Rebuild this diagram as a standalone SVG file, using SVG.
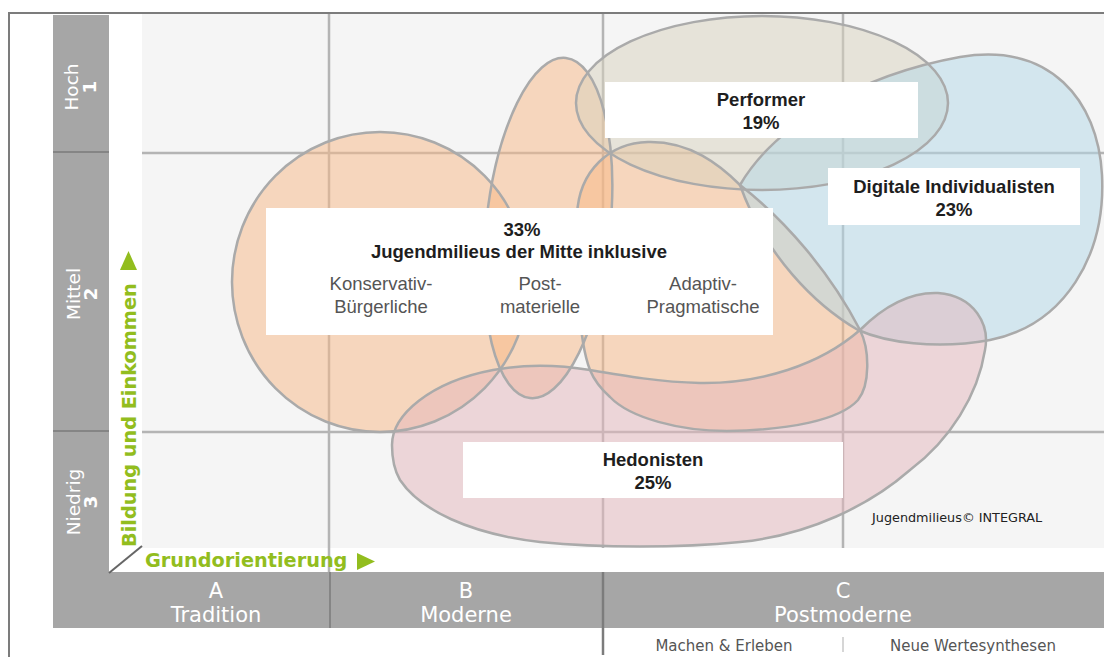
<svg xmlns="http://www.w3.org/2000/svg" width="1104" height="657" viewBox="0 0 1104 657">
<defs>
<style>
.bar{fill:#a6a6a6}
.grid{stroke:#b4b4b4;stroke-width:2.5;fill:none}
.sep{stroke:#858585;stroke-width:2;fill:none}
.axis{font-family:"DejaVu Sans",Verdana,sans-serif;fill:#ffffff;font-size:18.5px;text-anchor:middle}
.num{font-weight:bold}
.cat{font-family:"DejaVu Sans",Verdana,sans-serif;fill:#ffffff;font-size:21px;text-anchor:middle}
.green{font-family:"DejaVu Sans",Verdana,sans-serif;font-weight:bold;fill:#92bd1e;font-size:19.3px}
.blob{fill-opacity:0.5;stroke:none}
.outline{fill:none;stroke:#aaaaaa;stroke-width:2.5}
.box{fill:#ffffff}
.lb{font-family:"Liberation Sans",Arial,sans-serif;font-weight:bold;font-size:18.5px;fill:#1e1e1e;text-anchor:middle}
.lr{font-family:"Liberation Sans",Arial,sans-serif;font-size:18.5px;fill:#555555;text-anchor:middle}
.sub{font-family:"DejaVu Sans",Verdana,sans-serif;font-size:15px;fill:#555555;text-anchor:middle}
.copy{font-family:"DejaVu Sans",Verdana,sans-serif;font-size:12.8px;fill:#222222}
</style>
<ellipse id="s-kb" cx="380" cy="282" rx="148" ry="150"/>
<ellipse id="s-pm" cx="548" cy="228" rx="62" ry="171" transform="rotate(6 548 228)"/>
<path id="s-ap" d="M590,370 C578,340 575,260 577,215 C579,170 610,143 648,142 C690,141 720,165 740,185 C785,220 830,272 860,330 C870,350 870,385 858,400 C840,420 790,430 727,431 C680,431 630,418 610,397 C600,388 594,380 590,370 Z"/>
<ellipse id="s-pf" cx="762" cy="103" rx="186" ry="87"/>
<path id="s-di" d="M740,185 C775,125 860,75 960,57 C1050,42 1098,100 1102,175 C1106,255 1065,325 990,340 C935,350 885,342 858,330 C815,305 765,255 740,185 Z"/>
<path id="s-he" d="M392,445 C392,415 430,382 493,370 C525,364 560,365 590,370 C625,376 660,382 700,383 C760,384 820,365 860,330 C885,305 912,292 938,293 C975,296 990,325 985,350 C978,395 950,440 910,470 C870,505 810,535 740,542 C680,548 600,548 540,542 C470,534 420,510 400,480 C393,468 392,455 392,445 Z"/>
</defs>

<rect x="0" y="0" width="1104" height="657" fill="#ffffff"/>

<g id="frame">
<path d="M9,657 V13 H1104" fill="none" stroke="#7c7c7c" stroke-width="2"/>
<rect x="142" y="14" width="962" height="534" fill="#f5f5f5"/>
<rect class="bar" x="53" y="15" width="56" height="613"/>
<rect class="bar" x="53" y="572" width="1051" height="56"/>
<line class="sep" x1="53" y1="152" x2="109" y2="152"/>
<line class="sep" x1="53" y1="431" x2="109" y2="431"/>
<line class="sep" x1="330" y1="572" x2="330" y2="628"/>
<line x1="603" y1="572" x2="603" y2="655" stroke="#7c7c7c" stroke-width="2.5"/>
<line x1="843" y1="637" x2="843" y2="652" stroke="#c8c8c8" stroke-width="1.5"/>
<line x1="109" y1="573" x2="142" y2="546" stroke="#666666" stroke-width="2"/>
</g>

<g id="grid">
<line class="grid" x1="142" y1="153" x2="1104" y2="153"/>
<line class="grid" x1="142" y1="432" x2="1104" y2="432"/>
<line class="grid" x1="329" y1="14" x2="329" y2="572"/>
<line class="grid" x1="603" y1="14" x2="603" y2="548"/>
<line class="grid" x1="843" y1="14" x2="843" y2="548"/>
</g>

<g id="axis-labels">
<g transform="translate(87,87) rotate(-90)"><text class="axis" x="0" y="-9">Hoch</text><text class="axis num" x="0" y="9">1</text></g>
<g transform="translate(89,294) rotate(-90)"><text class="axis" x="0" y="-9">Mittel</text><text class="axis num" x="0" y="8">2</text></g>
<g transform="translate(89,502) rotate(-90)"><text class="axis" x="0" y="-9">Niedrig</text><text class="axis num" x="0" y="8">3</text></g>
<text class="green" transform="translate(136,547) rotate(-90)">Bildung und Einkommen</text>
<polygon points="120,270 137,270 128.5,251" fill="#92bd1e"/>
<text class="green" x="145" y="567">Grundorientierung</text>
<polygon points="357,553 357,570 375,561.5" fill="#92bd1e"/>
<text class="cat" x="216" y="598">A</text>
<text class="cat" x="216" y="622">Tradition</text>
<text class="cat" x="466" y="598">B</text>
<text class="cat" x="466" y="622">Moderne</text>
<text class="cat" x="843" y="598">C</text>
<text class="cat" x="843" y="622">Postmoderne</text>
<text class="sub" x="724" y="651">Machen &amp; Erleben</text>
<text class="sub" x="973" y="651">Neue Wertesynthesen</text>
</g>

<g id="milieu-konservativ-buergerliche"><use href="#s-kb" class="blob" fill="#f7b785"/></g>
<g id="milieu-postmaterielle"><use href="#s-pm" class="blob" fill="#f7b785"/></g>
<g id="milieu-adaptiv-pragmatische"><use href="#s-ap" class="blob" fill="#f7b785"/></g>
<g id="milieu-performer"><use href="#s-pf" class="blob" fill="#d7d1bd"/></g>
<g id="milieu-digitale-individualisten"><use href="#s-di" class="blob" fill="#b1d7e7"/></g>
<g id="milieu-hedonisten"><use href="#s-he" class="blob" fill="#e3b5bb"/></g>

<g id="outlines">
<use href="#s-kb" class="outline"/>
<use href="#s-pm" class="outline"/>
<use href="#s-ap" class="outline"/>
<use href="#s-pf" class="outline"/>
<use href="#s-di" class="outline"/>
<use href="#s-he" class="outline"/>
</g>

<g id="label-mitte">
<rect class="box" x="266" y="208" width="507" height="127"/>
<text class="lb" x="522" y="236">33%</text>
<text class="lb" x="519" y="258">Jugendmilieus der Mitte inklusive</text>
<text class="lr" x="381" y="290">Konservativ-</text>
<text class="lr" x="381" y="313">Bürgerliche</text>
<text class="lr" x="540" y="290">Post-</text>
<text class="lr" x="540" y="313">materielle</text>
<text class="lr" x="703" y="290">Adaptiv-</text>
<text class="lr" x="703" y="313">Pragmatische</text>
</g>
<g id="label-performer">
<rect class="box" x="605" y="82" width="313" height="56"/>
<text class="lb" x="761" y="106">Performer</text>
<text class="lb" x="761" y="129">19%</text>
</g>
<g id="label-digitale">
<rect class="box" x="828" y="168" width="252" height="57"/>
<text class="lb" x="954" y="193">Digitale Individualisten</text>
<text class="lb" x="954" y="216">23%</text>
</g>
<g id="label-hedonisten">
<rect class="box" x="463" y="442" width="380" height="56"/>
<text class="lb" x="653" y="466">Hedonisten</text>
<text class="lb" x="653" y="489">25%</text>
</g>
<text class="copy" x="872" y="522">Jugendmilieus© INTEGRAL</text>
</svg>
